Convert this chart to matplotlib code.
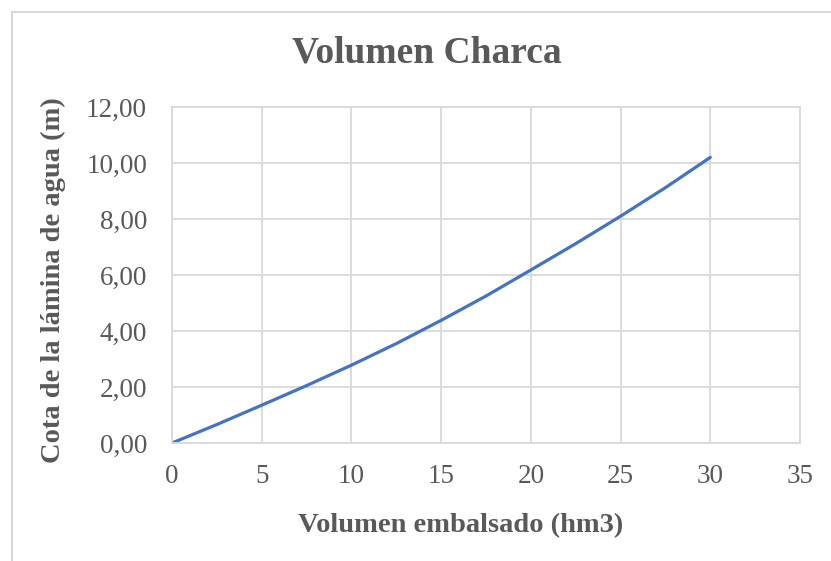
import matplotlib.pyplot as plt
from matplotlib.lines import Line2D
from matplotlib.ticker import FuncFormatter

# volumen embalsado (hm3) vs cota de la lamina de agua (m)
volumen = [0, 2.5, 5, 7.5, 10, 12.5, 15, 17.5, 20, 22.5, 25, 27.5, 30]
cota = [0, 0.66, 1.35, 2.05, 2.78, 3.55, 4.38, 5.25, 6.18, 7.12, 8.1, 9.12, 10.2]

x_ticks = [0, 5, 10, 15, 20, 25, 30, 35]
y_ticks = [0, 2, 4, 6, 8, 10, 12]

txt = '#595959'
grid = '#d9d9d9'
W, H = 831, 561

plt.rcParams['font.family'] = ['Liberation Serif', 'DejaVu Serif']

fig = plt.figure(figsize=(W / 100, H / 100), dpi=100)
ax = fig.add_axes([172 / W, 1 - 443 / H, 628 / W, 336 / H])

ax.plot(volumen, cota, color='#4472C4', lw=2.3, solid_capstyle='round')

ax.set_xlim(0, 35)
ax.set_ylim(0, 12)
ax.set_xticks(x_ticks)
ax.set_yticks(y_ticks)
ax.yaxis.set_major_formatter(FuncFormatter(lambda v, p: f'{v:.2f}'.replace('.', ',')))
ax.grid(True, color=grid, lw=1.3)
ax.set_axisbelow(True)
for s in ax.spines.values():
    s.set_color(grid)
    s.set_linewidth(1.3)
ax.tick_params(length=0, labelsize=19.5, colors=txt)
ax.tick_params(axis='x', pad=15)
ax.tick_params(axis='y', pad=18)

fig.text(461 / W, 1 - 526 / H, 'Volumen embalsado (hm3)', ha='center', va='center',
         fontsize=20.5, fontweight='bold', color=txt)
fig.text(53 / W, 1 - 280 / H, 'Cota de la lámina de agua (m)', ha='center', va='center',
         rotation=90, fontsize=20.5, fontweight='bold', color=txt)
fig.text(427 / W, 1 - 53 / H, 'Volumen Charca', ha='center', va='center',
         fontsize=27, fontweight='bold', color=txt)

# chart area border (only top and left visible in the crop)
fig.add_artist(Line2D([12 / W, 12 / W], [0, 1 - 12 / H], transform=fig.transFigure, color=grid, lw=1.5))
fig.add_artist(Line2D([12 / W, 1], [1 - 12 / H, 1 - 12 / H], transform=fig.transFigure, color=grid, lw=1.5))

fig.savefig('out.png', dpi=100)
